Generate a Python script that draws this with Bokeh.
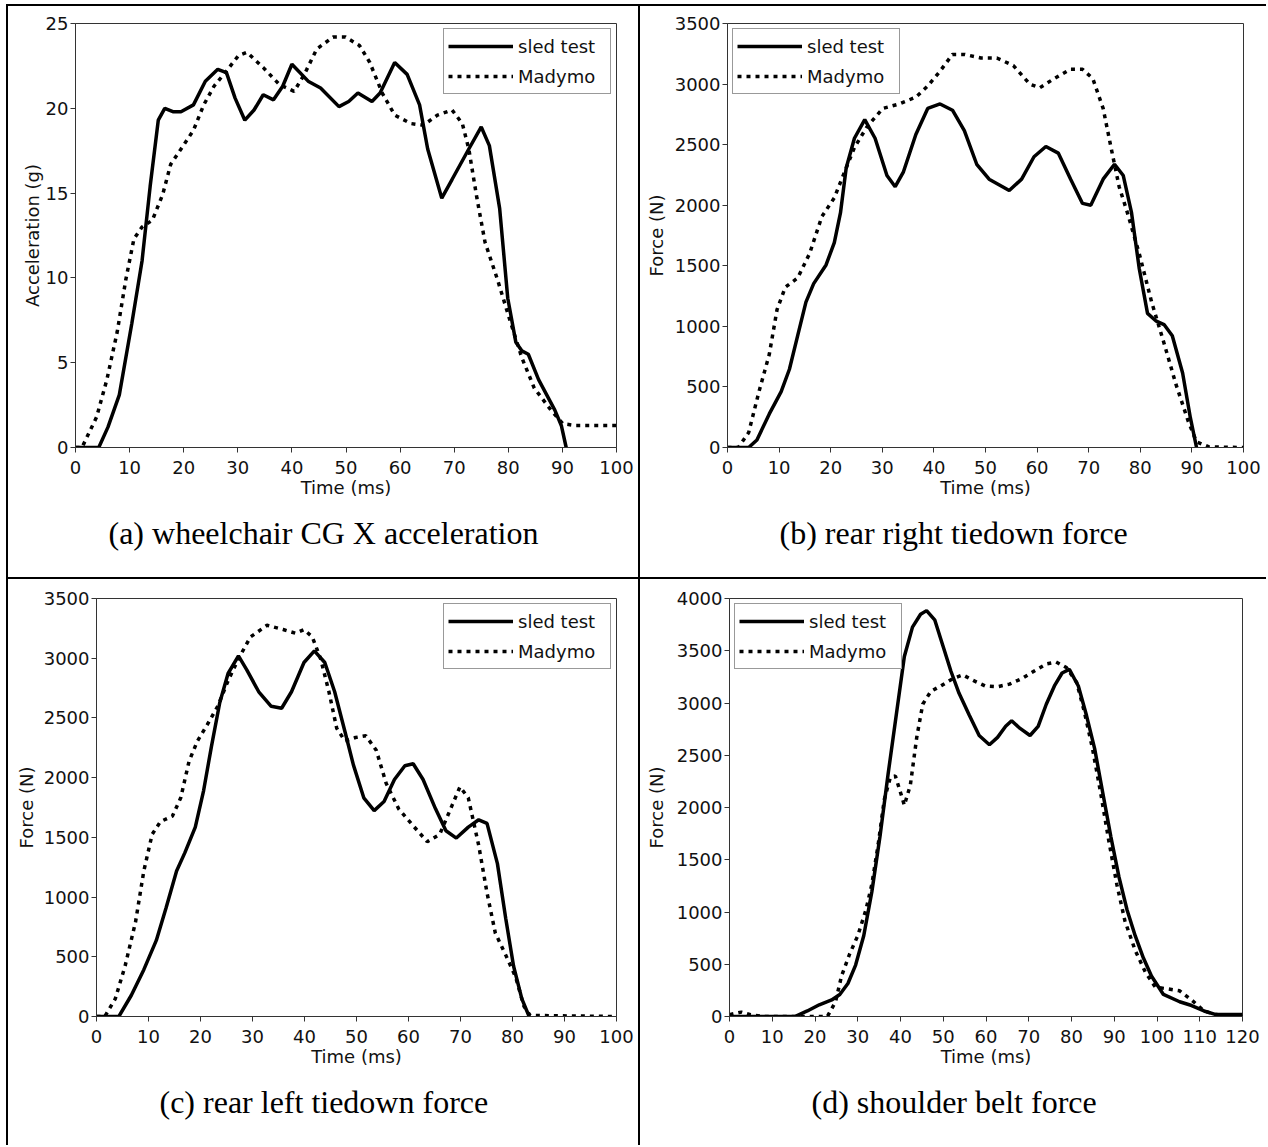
from bokeh.plotting import figure
from bokeh.layouts import column, row
from bokeh.models import Range1d, FixedTicker, Title
from bokeh.embed import file_html
from bokeh.resources import INLINE

# ---------------- data ----------------
# (a) wheelchair CG X acceleration (g)
a_sled_t = [0, 4.3, 6.0, 8.1, 10.4, 12.3, 13.8, 15.3, 16.5, 18.0, 19.5, 21.8, 24.0, 26.3, 27.9,
            29.5, 31.3, 33.0, 34.7, 36.6, 38.3, 40.0, 43.0, 45.3, 48.7, 50.5, 52.2, 54.8, 56.3,
            59.0, 61.3, 63.6, 65.1, 67.7, 69.6, 72.7, 75.0, 76.5, 78.4, 79.9, 81.4, 82.5, 83.7,
            85.6, 88.6, 89.8, 90.7]
a_sled_v = [0, 0, 1.2, 3.1, 7.3, 11.0, 15.4, 19.3, 20.0, 19.8, 19.8, 20.2, 21.6, 22.3, 22.1,
            20.6, 19.3, 19.9, 20.8, 20.5, 21.3, 22.6, 21.6, 21.2, 20.1, 20.4, 20.9, 20.4, 20.9,
            22.7, 22.0, 20.2, 17.6, 14.7, 15.8, 17.6, 18.9, 17.8, 14.1, 8.8, 6.2, 5.7, 5.5,
            4.0, 2.2, 1.3, 0]
a_mady_t = [0, 1.2, 3.9, 5.8, 7.7, 9.3, 10.8, 12.3, 14.2, 16.1, 17.6, 19.5, 21.8, 23.7, 25.6,
            27.9, 30.1, 31.7, 34.7, 37.7, 40.4, 42.3, 44.6, 47.6, 49.9, 52.5, 54.4, 56.7, 59.0,
            62.0, 64.3, 66.9, 69.6, 71.5, 72.7, 74.2, 75.7, 78.0, 80.3, 82.5, 84.8, 87.9, 90.1,
            92.4, 95.4, 100]
a_mady_v = [0, 0, 1.8, 4.0, 6.8, 9.9, 12.3, 13.0, 13.4, 14.9, 16.7, 17.6, 18.7, 20.2, 21.3,
            22.2, 23.1, 23.3, 22.4, 21.4, 21.0, 22.0, 23.5, 24.2, 24.2, 23.7, 22.7, 20.9, 19.6,
            19.1, 19.0, 19.6, 19.9, 19.1, 17.6, 14.7, 12.1, 9.9, 7.5, 5.3, 3.5, 2.2, 1.4,
            1.3, 1.3, 1.3]

# (b) rear right tiedown force (N)
b_sled_t = [0, 4.1, 5.7, 8.1, 10.4, 12.0, 13.6, 15.2, 16.7, 19.1, 20.7, 21.9, 23.0, 24.6, 26.6,
            28.6, 30.9, 32.5, 34.1, 36.5, 38.8, 41.2, 43.6, 45.9, 48.3, 50.7, 54.6, 57.0, 59.4,
            61.7, 64.1, 66.5, 68.8, 70.4, 72.8, 75.0, 76.7, 78.3, 79.8, 81.4, 83.0, 84.6, 86.2,
            88.2, 89.7, 90.9]
b_sled_v = [0, 0, 62, 277, 461, 646, 923, 1200, 1353, 1507, 1692, 1938, 2307, 2553, 2707,
            2553, 2245, 2153, 2276, 2584, 2799, 2836, 2784, 2615, 2338, 2215, 2122, 2215, 2400,
            2485, 2430, 2215, 2015, 2000, 2215, 2338, 2245, 1938, 1476, 1107, 1046, 1015, 923,
            615, 246, 0]
b_mady_t = [0, 2.1, 4.1, 6.1, 8.1, 9.6, 11.2, 13.6, 15.9, 18.3, 20.7, 22.7, 24.6, 27.0, 30.1,
            33.3, 36.5, 38.8, 41.2, 43.6, 45.9, 49.1, 52.2, 55.4, 58.6, 60.5, 63.3, 66.5, 68.8,
            70.8, 72.8, 74.4, 75.9, 77.5, 79.8, 82.2, 84.6, 86.9, 89.3, 90.9, 93.3, 100]
b_mady_v = [0, 0, 123, 461, 769, 1138, 1323, 1400, 1600, 1907, 2061, 2276, 2476, 2645, 2799,
            2836, 2892, 2984, 3107, 3245, 3245, 3215, 3215, 3153, 2999, 2969, 3045, 3122, 3122,
            3045, 2799, 2461, 2153, 1938, 1600, 1200, 861, 523, 215, 46, 5, 0]

# (c) rear left tiedown force (N)
c_sled_t = [0, 4.3, 6.7, 9.1, 11.5, 13.4, 15.4, 17.0, 19.0, 20.6, 22.1, 23.7, 25.3, 27.3, 28.9,
            31.2, 33.6, 35.6, 37.5, 39.9, 41.9, 43.9, 45.8, 47.8, 49.4, 51.4, 53.4, 55.3, 57.3,
            59.3, 60.9, 62.8, 65.2, 67.2, 69.2, 71.5, 73.5, 75.1, 77.1, 78.7, 80.2, 81.8, 83.2]
c_sled_v = [0, 0, 178, 392, 637, 912, 1219, 1372, 1586, 1892, 2260, 2627, 2872, 3019, 2903,
            2719, 2597, 2581, 2719, 2964, 3062, 2964, 2719, 2382, 2107, 1831, 1724, 1800, 1984,
            2100, 2116, 1984, 1739, 1555, 1494, 1586, 1647, 1617, 1280, 821, 423, 147, 0]
c_mady_t = [0, 1.6, 3.6, 5.5, 7.5, 9.1, 10.7, 12.3, 14.6, 16.2, 17.8, 19.4, 21.3, 23.3, 25.3,
            27.3, 29.6, 32.8, 35.9, 38.3, 39.9, 41.5, 43.1, 44.7, 46.2, 47.8, 49.8, 51.8, 53.8,
            55.7, 58.1, 60.5, 63.6, 66.0, 68.4, 69.9, 71.5, 73.5, 75.1, 76.7, 78.7, 80.6, 82.2,
            83.4, 100]
c_mady_v = [0, 0, 147, 423, 790, 1219, 1525, 1632, 1678, 1831, 2137, 2306, 2443, 2597, 2811,
            2995, 3178, 3276, 3240, 3209, 3240, 3178, 2995, 2719, 2413, 2306, 2336, 2351, 2229,
            1953, 1739, 1617, 1464, 1525, 1770, 1923, 1831, 1433, 1035, 698, 514, 331, 86,
            9, 0]

# (d) shoulder belt force (N)
d_sled_t = [0, 15.3, 18.2, 21.0, 23.9, 25.8, 27.7, 29.5, 31.4, 33.3, 35.2, 37.1, 39.0, 40.9,
            42.8, 44.7, 46.1, 48.0, 49.9, 51.8, 53.7, 56.1, 58.4, 60.8, 62.7, 64.6, 66.0, 67.9,
            70.3, 72.2, 74.1, 76.0, 77.8, 79.5, 81.6, 83.5, 85.4, 87.3, 89.2, 91.1, 93.0, 94.9,
            96.8, 98.7, 101.5, 105.3, 108.1, 111.0, 113.8, 120]
d_sled_v = [0, 0, 53, 112, 158, 211, 316, 492, 773, 1195, 1722, 2320, 2882, 3445,
            3726, 3849, 3884, 3796, 3550, 3304, 3093, 2882, 2689, 2601, 2671, 2777, 2830, 2759,
            2689, 2777, 2988, 3163, 3287, 3322, 3163, 2882, 2566, 2144, 1722, 1336, 1019, 773,
            562, 387, 211, 141, 105, 53, 18, 18]
d_mady_t = [0, 2.8, 4.9, 7.8, 17.2, 22.9, 24.8, 26.2, 28.1, 30.0, 31.9, 33.3, 34.8, 36.2, 37.6,
            38.8, 40.0, 40.9, 42.3, 43.8, 45.2, 47.1, 49.4, 52.3, 54.6, 57.0, 59.8, 62.7, 65.5,
            68.4, 71.2, 74.1, 76.4, 78.8, 81.2, 83.0, 84.9, 86.8, 88.7, 90.6, 92.5, 94.9, 97.3,
            99.6, 102.5, 105.3, 108.1, 111.0, 113.8, 120]
d_mady_v = [18, 42, 18, 0, 0, 0, 141, 387, 598, 773, 1019, 1265, 1652, 2074, 2285,
            2302, 2144, 2021, 2214, 2671, 2988, 3111, 3163, 3234, 3269, 3216, 3163, 3156, 3181,
            3234, 3304, 3374, 3392, 3339, 3198, 2917, 2566, 2144, 1687, 1265, 914, 633, 422,
            281, 264, 246, 158, 53, 18, 0]

x_ticks_100 = [0, 10, 20, 30, 40, 50, 60, 70, 80, 90, 100]
x_ticks_120 = [0, 10, 20, 30, 40, 50, 60, 70, 80, 90, 100, 110, 120]
y_ticks_acc = [0, 5, 10, 15, 20, 25]
y_ticks_3500 = [0, 500, 1000, 1500, 2000, 2500, 3000, 3500]
y_ticks_4000 = [0, 500, 1000, 1500, 2000, 2500, 3000, 3500, 4000]

series_names = ["sled test", "Madymo"]
x_label = "Time (ms)"

SANS = "DejaVu Sans"
SERIF = "Liberation Serif"
TXT = "#111111"
AX = "#333333"
BORDER = "2px solid black"


def panel(width, height, ml, mr, mt, mb, xmax, xticks, ymax, yticks, ylabel, ylab_standoff,
          caption, cap_offset, cap_standoff, tx, ty, mx, my, legend_loc, styles):
    p = figure(width=width, height=height, output_backend="svg", toolbar_location=None,
               x_range=Range1d(0, xmax), y_range=Range1d(0, ymax),
               min_border_left=ml, min_border_right=mr, min_border_top=mt,
               min_border_bottom=mb, background_fill_color="white",
               border_fill_color="white", styles=styles)
    p.grid.visible = False
    p.outline_line_color = AX
    p.outline_line_width = 1
    p.xaxis.ticker = FixedTicker(ticks=xticks)
    p.yaxis.ticker = FixedTicker(ticks=yticks)
    for ax in (p.xaxis[0], p.yaxis[0]):
        ax.axis_line_color = AX
        ax.major_tick_line_color = AX
        ax.major_tick_out = 5
        ax.major_tick_in = 0
        ax.minor_tick_line_color = None
        ax.major_label_text_font = SANS
        ax.major_label_text_font_size = "18px"
        ax.major_label_text_color = TXT
        ax.major_label_standoff = 2
        ax.axis_label_text_font = SANS
        ax.axis_label_text_font_size = "18px"
        ax.axis_label_text_font_style = "normal"
        ax.axis_label_text_color = TXT
    p.xaxis.major_label_standoff = 8
    p.xaxis.axis_label = x_label
    p.xaxis.axis_label_standoff = 0
    p.yaxis.axis_label = ylabel
    p.yaxis.axis_label_standoff = ylab_standoff

    p.line(tx, ty, line_color="black", line_width=3.5, legend_label=series_names[0])
    p.line(mx, my, line_color="black", line_width=3.5, line_dash="4 5",
           legend_label=series_names[1])

    lg = p.legend[0]
    lg.location = legend_loc
    lg.margin = 5
    lg.padding = 4
    lg.spacing = 4
    lg.glyph_width = 65
    lg.glyph_height = 26
    lg.label_height = 26
    lg.label_width = 88
    lg.label_standoff = 5
    lg.label_text_font = SANS
    lg.label_text_font_size = "18px"
    lg.label_text_color = TXT
    lg.border_line_color = AX
    lg.border_line_width = 1
    lg.background_fill_color = "white"
    lg.background_fill_alpha = 1

    p.add_layout(Title(text=caption, text_font=SERIF, text_font_size="32px",
                       text_font_style="normal", text_color="black", align="left",
                       offset=cap_offset, standoff=cap_standoff), "below")
    return p


# sizes include the CSS borders (border-box): canvas = size - borders
pa = panel(634, 575, 67, 26, 17, 134, 100, x_ticks_100, 25, y_ticks_acc,
           "Acceleration (g)", 0, "(a) wheelchair CG X acceleration", 33, 24,
           a_sled_t, a_sled_v, a_mady_t, a_mady_v, "top_right",
           {"border-left": BORDER, "border-top": BORDER, "border-right": BORDER,
            "border-bottom": BORDER})
pb = panel(626, 575, 87, 23, 17, 134, 100, x_ticks_100, 3500, y_ticks_3500,
           "Force (N)", 5, "(b) rear right tiedown force", 52, 24,
           b_sled_t, b_sled_v, b_mady_t, b_mady_v, "top_left",
           {"border-top": BORDER, "border-bottom": BORDER})
pc = panel(634, 566, 88, 26, 19, 125, 100, x_ticks_100, 3500, y_ticks_3500,
           "Force (N)", 4, "(c) rear left tiedown force", 63, 24,
           c_sled_t, c_sled_v, c_mady_t, c_mady_v, "top_right",
           {"border-left": BORDER, "border-right": BORDER})
pd = panel(626, 566, 89, 24, 18, 129, 120, x_ticks_120, 4000, y_ticks_4000,
           "Force (N)", 7, "(d) shoulder belt force", 82, 24,
           d_sled_t, d_sled_v, d_mady_t, d_mady_v, "top_left", {})

layout = column(row(pa, pb, spacing=0), row(pc, pd, spacing=0), spacing=0,
                styles={"margin-left": "6px", "margin-top": "4px"})

open("out.html", "w").write(file_html(layout, INLINE))
